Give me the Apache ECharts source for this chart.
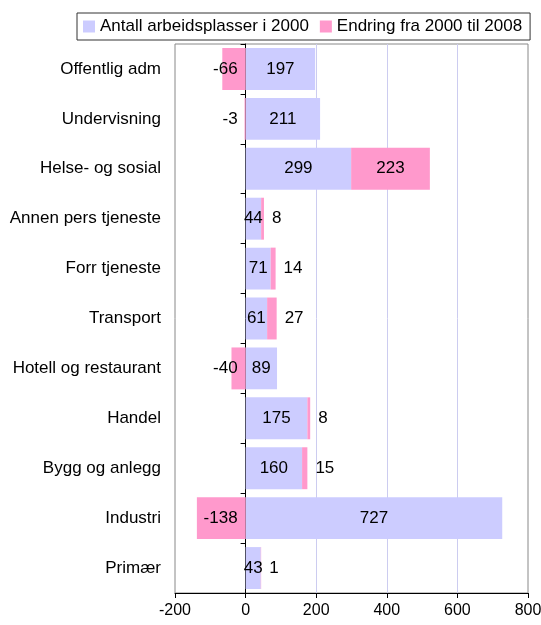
<!DOCTYPE html>
<html>
<head>
<meta charset="utf-8">
<script src="https://cdn.jsdelivr.net/npm/echarts@6/dist/echarts.min.js"></script>
<style>
html,body{margin:0;padding:0;background:#fff;}
#chart{width:541px;height:625px;}
</style>
</head>
<body>
<div id="chart"></div>
<script>
const categories = ['Offentlig adm','Undervisning','Helse- og sosial','Annen pers tjeneste','Forr tjeneste','Transport','Hotell og restaurant','Handel','Bygg og anlegg','Industri','Primær'];
const jobs2000 = [197, 211, 299, 44, 71, 61, 89, 175, 160, 727, 43];
const change2000to2008 = [-66, -3, 223, 8, 14, 27, -40, 8, 15, -138, 1];
const seriesNames = ['Antall arbeidsplasser i 2000', 'Endring fra 2000 til 2008'];
const xTicks = { min: -200, max: 800, interval: 200 };

const FONT = 'Liberation Sans, Arial, sans-serif';
const chart = echarts.init(document.getElementById('chart'), null, {renderer: 'canvas'});

const changeData = change2000to2008.map(v => {
  let label;
  if (v < 0) label = { position: 'insideRight', distance: 8 };
  else if (v < 100) label = { position: 'right', distance: 8 };
  else label = { position: 'inside' };
  return { value: v, label: label };
});

chart.setOption({
  animation: false,
  backgroundColor: '#ffffff',
  legend: {
    left: 77, top: 13,
    itemWidth: 12, itemHeight: 12, itemGap: 11,
    borderColor: '#333', borderWidth: 1,
    padding: [5, 8, 5, 6],
    icon: 'rect',
    textStyle: { fontFamily: FONT, fontSize: 17, color: '#000' },
    data: seriesNames
  },
  grid: {
    left: 175, right: 13, top: 44, bottom: 32,
    containLabel: false,
    outerBoundsMode: 'none',
    show: true, borderColor: '#888', borderWidth: 1
  },
  xAxis: {
    type: 'value',
    min: xTicks.min, max: xTicks.max, interval: xTicks.interval,
    axisLine: { show: true, lineStyle: { color: '#000', width: 1 } },
    axisTick: { show: true, length: 5, lineStyle: { color: '#000' } },
    axisLabel: { fontFamily: FONT, fontSize: 16, color: '#000', margin: 10 },
    splitLine: { show: true, showMinLine: false, showMaxLine: false, lineStyle: { color: '#ccccf0', width: 1 } }
  },
  yAxis: {
    type: 'category',
    inverse: true,
    data: categories,
    axisLine: { show: true, onZero: true, lineStyle: { color: '#000', width: 1 } },
    axisTick: { show: true, length: 5, lineStyle: { color: '#000' } },
    axisLabel: { fontFamily: FONT, fontSize: 17, color: '#000', margin: 14 },
    splitLine: { show: false }
  },
  series: [
    {
      name: seriesNames[0], type: 'bar', stack: 'a',
      barCategoryGap: '16%',
      itemStyle: { color: '#ccccff' },
      label: { show: true, position: 'inside', fontFamily: FONT, fontSize: 17, color: '#000' },
      data: jobs2000
    },
    {
      name: seriesNames[1], type: 'bar', stack: 'a',
      barCategoryGap: '16%',
      itemStyle: { color: '#ff99cc' },
      label: { show: true, fontFamily: FONT, fontSize: 17, color: '#000' },
      data: changeData
    }
  ]
});
</script>
</body>
</html>
